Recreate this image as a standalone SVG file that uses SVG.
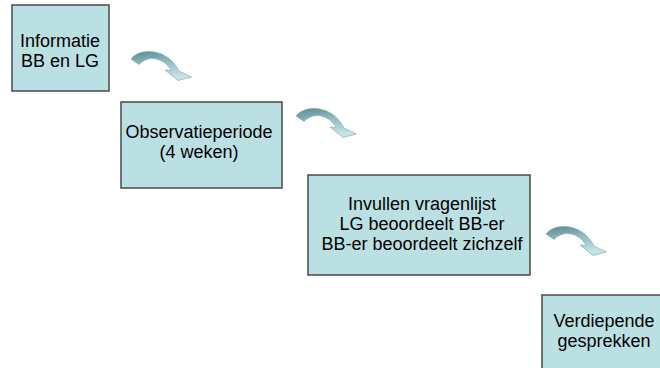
<svg xmlns="http://www.w3.org/2000/svg" width="660" height="368" viewBox="0 0 660 368">
<style>
.box{fill:#bbe0e3;stroke:#4a4a4a;stroke-width:1.5}
.t{font-family:"Liberation Sans",Arial,sans-serif;font-size:18px;fill:#000;text-anchor:middle}
</style>
<defs>
<linearGradient id="ag" x1="0" y1="0" x2="0.3" y2="1">
<stop offset="0" stop-color="#5a8a92"/>
<stop offset="0.45" stop-color="#8db8be"/>
<stop offset="1" stop-color="#c6e3e6"/>
</linearGradient>
<path id="arr" d="M131,59 C140,47 168,48 179,71 L191.5,77 L178,80.5 L165,70 L171,70.5 C166,60 150,53 139,64.5 Z" fill="url(#ag)" stroke="#7ea6ac" stroke-width="0.6"/>
</defs>
<rect width="660" height="368" fill="#fff"/>
<g id="connectors">
<use href="#arr"/>
<use href="#arr" transform="translate(165,57)"/>
<use href="#arr" transform="translate(415,175)"/>
</g>
<g id="n1">
<rect class="box" x="12" y="5" width="97" height="86"/>
<text class="t" x="60" y="47">Informatie</text>
<text class="t" x="60" y="67">BB en LG</text>
</g>
<g id="n2">
<rect class="box" x="121" y="102" width="161" height="86"/>
<text class="t" x="199" y="138">Observatieperiode</text>
<text class="t" x="199" y="158">(4 weken)</text>
</g>
<g id="n3">
<rect class="box" x="308" y="175" width="222" height="100"/>
<text class="t" x="422" y="210">Invullen vragenlijst</text>
<text class="t" x="422" y="230">LG beoordeelt BB-er</text>
<text class="t" x="422" y="250">BB-er beoordeelt zichzelf</text>
</g>
<g id="n4">
<rect class="box" x="542" y="295" width="130" height="90"/>
<text class="t" x="604" y="327">Verdiepende</text>
<text class="t" x="604" y="347">gesprekken</text>
</g>
</svg>
